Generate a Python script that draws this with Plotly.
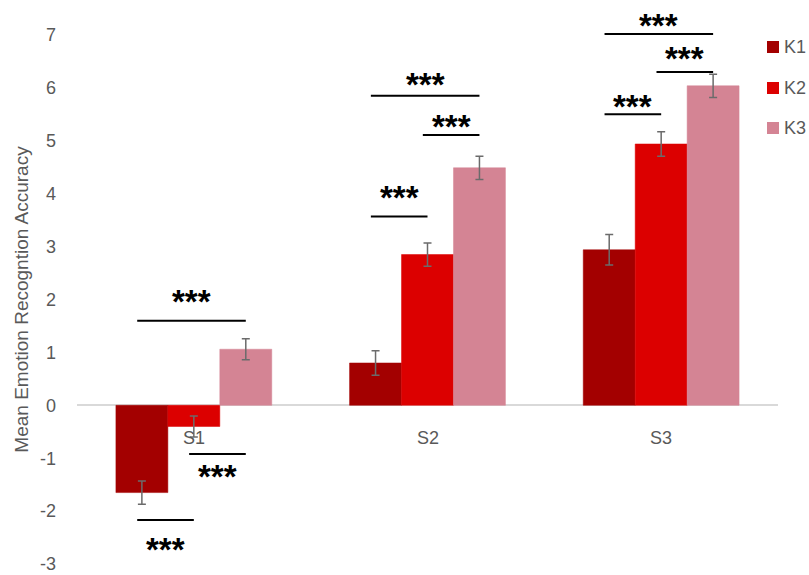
import plotly.graph_objects as go

categories = ["S1", "S2", "S3"]
series_names = ["K1", "K2", "K3"]
k1_values = [-1.65, 0.80, 2.94]
k2_values = [-0.40, 2.85, 4.94]
k3_values = [1.06, 4.49, 6.04]
k1_errors = [0.22, 0.23, 0.29]
k2_errors = [0.20, 0.22, 0.23]
k3_errors = [0.20, 0.22, 0.22]
colors = ["#a30000", "#dc0000", "#d48494"]

tick_values = [-3, -2, -1, 0, 1, 2, 3, 4, 5, 6, 7]
tick_labels = ["-3", "-2", "-1", "0", "1", "2", "3", "4", "5", "6", "7"]

# significance brackets: category index, first series, second series, line y, star label y
bracket_cat = [0, 0, 0, 1, 1, 1, 2, 2, 2]
bracket_from = [0, 1, 0, 0, 1, 0, 0, 1, 0]
bracket_to = [2, 2, 1, 2, 2, 1, 2, 2, 1]
bracket_line_y = [1.6, -0.92, -2.17, 5.85, 5.11, 3.57, 7.02, 6.30, 5.50]
bracket_star_y = [2.07, -1.23, -2.62, 6.17, 5.38, 4.04, 7.30, 6.66, 5.77]
star_text = "<b>***</b>"

y_min, y_max = -3, 7

values = [k1_values, k2_values, k3_values]
errors = [k1_errors, k2_errors, k3_errors]

W, H = 809, 575
ML, MR, MT, MB = 77, 31, 35, 11
PW, PH = W - ML - MR, H - MT - MB

fig = go.Figure()
for name, vals, errs, col in zip(series_names, values, errors, colors):
    fig.add_trace(go.Bar(
        x=list(range(len(categories))), y=vals, name=name,
        marker=dict(color=col, line=dict(color=col, width=0.5)),
        error_y=dict(type="data", array=errs, visible=True, color="#6b6b6b",
                     thickness=1.5, width=4),
        showlegend=False,
    ))

bargap = 0.333
group_w = 1 - bargap
bar_w = group_w / 3


def bar_center(cat, s):
    return cat - group_w / 2 + bar_w * (s + 0.5)


def to_paper(v):
    return (v - y_min) / (y_max - y_min)


def px_x(px):
    return (px - ML) / PW


def px_y(py):
    return 1 - (py - MT) / PH


shapes = []
annotations = []
for c, a, b, ly, sy in zip(bracket_cat, bracket_from, bracket_to, bracket_line_y, bracket_star_y):
    x0 = bar_center(c, a) - 0.02
    x1 = bar_center(c, b) + 0.0
    shapes.append(dict(type="line", xref="x", yref="paper", x0=x0, x1=x1,
                       y0=to_paper(ly), y1=to_paper(ly),
                       line=dict(color="black", width=2)))
    annotations.append(dict(x=(x0 + x1) / 2, y=to_paper(sy), xref="x", yref="paper",
                            yanchor="middle",
                            text=star_text, showarrow=False,
                            font=dict(family="Liberation Sans", size=33, color="black"),
                            yshift=-6))

for i, cat in enumerate(categories):
    annotations.append(dict(x=i, y=-0.62, xref="x", yref="y", text=cat,
                            showarrow=False,
                            font=dict(family="Liberation Sans", size=18, color="#595959")))

# manual legend
legend_centers_px = [47, 88, 128]
for name, col, cy in zip(series_names, colors, legend_centers_px):
    shapes.append(dict(type="rect", xref="paper", yref="paper",
                       x0=px_x(767), x1=px_x(779), y0=px_y(cy + 6), y1=px_y(cy - 6),
                       fillcolor=col, line=dict(width=0)))
    annotations.append(dict(x=px_x(782), y=px_y(cy), xref="paper", yref="paper",
                            xanchor="left", yanchor="middle", text=name,
                            showarrow=False,
                            font=dict(family="Liberation Sans", size=18, color="#595959")))

fig.update_layout(
    width=W, height=H,
    barmode="group", bargap=bargap, bargroupgap=0,
    plot_bgcolor="white", paper_bgcolor="white",
    margin=dict(l=ML, r=MR, t=MT, b=MB, autoexpand=False),
    font=dict(family="Liberation Sans", size=18, color="#595959"),
    shapes=shapes, annotations=annotations,
    showlegend=False,
)
fig.update_xaxes(range=[-0.5, 2.5], showticklabels=False, showgrid=False,
                 zeroline=False, showline=False, ticks="")
fig.update_yaxes(range=[y_min, y_max], tickvals=tick_values, ticktext=tick_labels,
                 showgrid=False,
                 zeroline=True, zerolinecolor="#d9d9d9", zerolinewidth=1.5,
                 showline=False, ticks="", ticklabelstandoff=20,
                 title=dict(text="Mean Emotion Recogntion Accuracy",
                            font=dict(size=19, color="#595959"), standoff=6))

fig.write_html("out.html", config={"displayModeBar": False},
               post_script="document.body.style.margin='0px';document.body.style.overflow='hidden';")
